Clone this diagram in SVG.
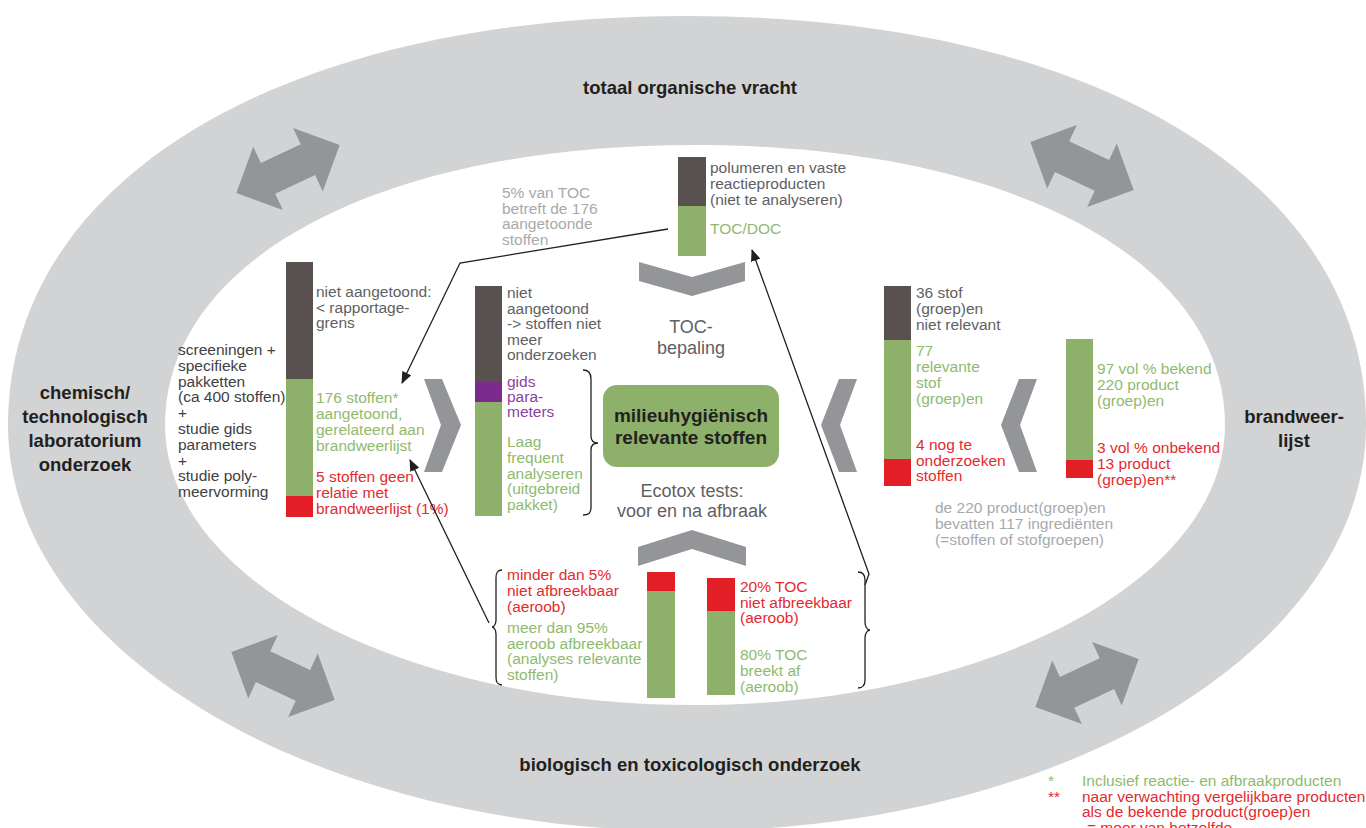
<svg xmlns="http://www.w3.org/2000/svg" width="1366" height="828" viewBox="0 0 1366 828">
<defs>
<style>
.t{font-family:"Liberation Sans",Arial,sans-serif;font-size:15.5px}
.m{font-family:"Liberation Sans",Arial,sans-serif;font-size:18px;fill:#5f6062;text-anchor:middle}
.big{font-family:"Liberation Sans",Arial,sans-serif;font-weight:bold;font-size:18.5px;fill:#231f20;text-anchor:middle}
.dk{fill:#414042}.gy{fill:#5f6062}.lg{fill:#a7a9ac}.gr{fill:#8fba6e}.rd{fill:#e42a2f}.pu{fill:#8b3fa0}
.bd{fill:#595150}.bg{fill:#8db16a}.br{fill:#e21f26}.bp{fill:#7b2b8d}
.ga{fill:#939598}
.ln{fill:none;stroke:#231f20;stroke-width:1.3}
.brace{fill:none;stroke:#231f20;stroke-width:1.3}
</style>
<marker id="ah" viewBox="0 0 12 10" refX="11" refY="5" markerWidth="12" markerHeight="10" markerUnits="userSpaceOnUse" orient="auto">
<path d="M0,0 L12,5 L0,10 Z" fill="#231f20"/>
</marker>
<polygon id="dbl" points="-57,0 -22,-35 -22,-17 22,-17 22,-35 57,0 22,35 22,17 -22,17 -22,35"/>
</defs>
<rect width="1366" height="828" fill="#ffffff"/>
<g id="rings">
<path d="M8,425 C8,181 280,16 687,16 C1094,16 1366,181 1366,425 C1366,649 1062,831 687,831 C312,831 8,649 8,425 Z" fill="#d1d3d4"/>
<path d="M165,425 C165,263 373,145 695,145 C1017,145 1225,263 1225,425 C1225,580 988,705 695,705 C402,705 165,580 165,425 Z" fill="#ffffff"/>
</g>
<g id="ring-labels">
<text class="big" x="690" y="94">totaal organische vracht</text>
<text class="big"><tspan x="85" y="399">chemisch/</tspan><tspan x="85" y="423">technologisch</tspan><tspan x="85" y="447">laboratorium</tspan><tspan x="85" y="471">onderzoek</tspan></text>
<text class="big"><tspan x="1294" y="423">brandweer-</tspan><tspan x="1294" y="447">lijst</tspan></text>
<text class="big" x="690" y="771">biologisch en toxicologisch onderzoek</text>
</g>
<g id="ring-arrows" class="ga">
<use href="#dbl" transform="translate(288,169) rotate(-25)"/>
<use href="#dbl" transform="translate(1082,166) rotate(25)"/>
<use href="#dbl" transform="translate(283,676) rotate(25)"/>
<use href="#dbl" transform="translate(1087,683) rotate(-25)"/>
</g>
<g id="chevrons" class="ga">
<polygon points="639,262 692,277 745,262 745,281 692,296 639,281"/>
<polygon points="638,547 692,530 746,547 746,566 692,549 638,566"/>
<polygon points="424,379 442,379 461,425 442,472 424,472 441,425"/>
<polygon points="857,379 839,379 821,425 839,472 857,472 840,425"/>
<polygon points="1037,379 1019,379 1001,425 1019,472 1037,472 1020,425"/>
</g>
<g id="toc-node">
<rect class="bd" x="678" y="157" width="28" height="49"/>
<rect class="bg" x="678" y="206" width="28" height="50"/>
<text class="t gy"><tspan x="710" y="173">polumeren en vaste</tspan><tspan x="710" y="189">reactieproducten</tspan><tspan x="710" y="205">(niet te analyseren)</tspan></text>
<text class="t gr" x="710" y="234">TOC/DOC</text>
<text class="t lg"><tspan x="502" y="198">5% van TOC</tspan><tspan x="502" y="213.5">betreft de 176</tspan><tspan x="502" y="229">aangetoonde</tspan><tspan x="502" y="244.5">stoffen</tspan></text>
</g>
<g id="lab-node">
<text class="t dk"><tspan x="178" y="355">screeningen +</tspan><tspan x="178" y="370.8">specifieke</tspan><tspan x="178" y="386.6">pakketten</tspan><tspan x="178" y="402.4">(ca 400 stoffen)</tspan><tspan x="178" y="418.2">+</tspan><tspan x="178" y="434">studie gids</tspan><tspan x="178" y="449.8">parameters</tspan><tspan x="178" y="465.6">+</tspan><tspan x="178" y="481.4">studie poly-</tspan><tspan x="178" y="497.2">meervorming</tspan></text>
<rect class="bd" x="286" y="262" width="27" height="117"/>
<rect class="bg" x="286" y="379" width="27" height="117"/>
<rect class="br" x="286" y="496" width="27" height="21"/>
<text class="t gy"><tspan x="316" y="297">niet aangetoond:</tspan><tspan x="316" y="312.5">&lt; rapportage-</tspan><tspan x="316" y="328">grens</tspan></text>
<text class="t gr"><tspan x="316" y="403">176 stoffen*</tspan><tspan x="316" y="419">aangetoond,</tspan><tspan x="316" y="435">gerelateerd aan</tspan><tspan x="316" y="450.5">brandweerlijst</tspan></text>
<text class="t rd"><tspan x="316" y="482">5 stoffen geen</tspan><tspan x="316" y="498">relatie met</tspan><tspan x="316" y="513.5">brandweerlijst (1%)</tspan></text>
</g>
<g id="analysis-node">
<rect class="bd" x="475" y="286" width="27" height="96"/>
<rect class="bp" x="475" y="382" width="27" height="20"/>
<rect class="bg" x="475" y="402" width="27" height="114"/>
<text class="t gy"><tspan x="507" y="298">niet</tspan><tspan x="507" y="313.5">aangetoond</tspan><tspan x="507" y="329">-&gt; stoffen niet</tspan><tspan x="507" y="344.5">meer</tspan><tspan x="507" y="360">onderzoeken</tspan></text>
<text class="t pu"><tspan x="507" y="387">gids</tspan><tspan x="507" y="402">para-</tspan><tspan x="507" y="417">meters</tspan></text>
<text class="t gr"><tspan x="507" y="447">Laag</tspan><tspan x="507" y="463">frequent</tspan><tspan x="507" y="478.5">analyseren</tspan><tspan x="507" y="494">(uitgebreid</tspan><tspan x="507" y="510">pakket)</tspan></text>
<path class="brace" d="M583,370 C589,370 591,373 591,379 L591,436 C591,441 594,443 598,443 C594,443 591,445 591,450 L591,507 C591,513 589,515 583,515"/>
</g>
<g id="center-node">
<text class="m"><tspan x="691" y="333">TOC-</tspan><tspan x="691" y="354">bepaling</tspan></text>
<rect x="603" y="385" width="176" height="82" rx="14" fill="#8db16a"/>
<text class="big" style="font-size:19px"><tspan x="691" y="422">milieuhygiënisch</tspan><tspan x="691" y="444">relevante stoffen</tspan></text>
<text class="m"><tspan x="692" y="497">Ecotox tests:</tspan><tspan x="692" y="517">voor en na afbraak</tspan></text>
</g>
<g id="relevance-node">
<rect class="bd" x="884" y="286" width="27" height="54"/>
<rect class="bg" x="884" y="340" width="27" height="119"/>
<rect class="br" x="884" y="459" width="27" height="27"/>
<text class="t gy"><tspan x="916" y="298">36 stof</tspan><tspan x="916" y="314">(groep)en</tspan><tspan x="916" y="330">niet relevant</tspan></text>
<text class="t gr"><tspan x="916" y="356">77</tspan><tspan x="916" y="372">relevante</tspan><tspan x="916" y="388">stof</tspan><tspan x="916" y="404">(groep)en</tspan></text>
<text class="t rd"><tspan x="916" y="450">4 nog te</tspan><tspan x="916" y="466">onderzoeken</tspan><tspan x="916" y="481">stoffen</tspan></text>
</g>
<g id="brandweer-node">
<rect class="bg" x="1066" y="339" width="27" height="121"/>
<rect class="br" x="1066" y="460" width="27" height="18"/>
<text class="t gr"><tspan x="1097" y="374">97 vol % bekend</tspan><tspan x="1097" y="390">220 product</tspan><tspan x="1097" y="406">(groep)en</tspan></text>
<text class="t rd"><tspan x="1097" y="453">3 vol % onbekend</tspan><tspan x="1097" y="469">13 product</tspan><tspan x="1097" y="485">(groep)en**</tspan></text>
<text class="t lg"><tspan x="935" y="513">de 220 product(groep)en</tspan><tspan x="935" y="529">bevatten 117 ingrediënten</tspan><tspan x="935" y="545">(=stoffen of stofgroepen)</tspan></text>
</g>
<g id="ecotox-node">
<path class="brace" d="M502,570 C497,570 496,573 496,578 L496,620 C496,624 494,627 492,627 C494,627 496,630 496,634 L496,677 C496,682 497,685 502,685"/>
<rect class="br" x="647" y="572" width="28" height="19"/>
<rect class="bg" x="647" y="591" width="28" height="107"/>
<text class="t rd"><tspan x="507" y="580">minder dan 5%</tspan><tspan x="507" y="596">niet afbreekbaar</tspan><tspan x="507" y="612">(aeroob)</tspan></text>
<text class="t gr"><tspan x="507" y="633">meer dan 95%</tspan><tspan x="507" y="648.5">aeroob afbreekbaar</tspan><tspan x="507" y="664">(analyses relevante</tspan><tspan x="507" y="679.5">stoffen)</tspan></text>
<rect class="br" x="707" y="578" width="28" height="33"/>
<rect class="bg" x="707" y="611" width="28" height="84"/>
<text class="t rd"><tspan x="740" y="592">20% TOC</tspan><tspan x="740" y="608">niet afbreekbaar</tspan><tspan x="740" y="623">(aeroob)</tspan></text>
<text class="t gr"><tspan x="740" y="660">80% TOC</tspan><tspan x="740" y="676">breekt af</tspan><tspan x="740" y="692">(aeroob)</tspan></text>
<path class="brace" d="M858,572 C863,572 865,575 865,580 L865,622 C865,626 867,630 870,630 C867,630 865,634 865,638 L865,680 C865,685 863,688 858,688"/>
</g>
<g id="connectors">
<polyline class="ln" points="668,229 460,263 402,383" marker-end="url(#ah)"/>
<polyline class="ln" points="489,623 410,460" marker-end="url(#ah)"/>
<polyline class="ln" points="865,585 869,574 752,250" marker-end="url(#ah)"/>
</g>
<g id="footnotes">
<text class="t gr" x="1048" y="786">*</text>
<text class="t rd" x="1048" y="802">**</text>
<text class="t gr" x="1082" y="786">Inclusief reactie- en afbraakproducten</text>
<text class="t rd"><tspan x="1082" y="802">naar verwachting vergelijkbare producten</tspan><tspan x="1082" y="817">als de bekende product(groep)en</tspan><tspan x="1087" y="833">= meer van hetzelfde</tspan></text>
</g>
</svg>
